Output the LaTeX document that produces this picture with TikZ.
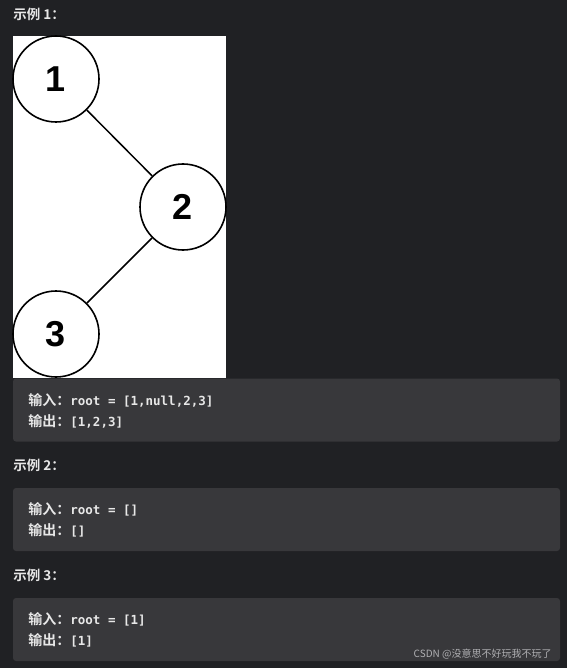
\documentclass[tikz,border=0pt]{standalone}
\usepackage{fontspec}
\usepackage{xcolor}
\setmainfont{Liberation Sans}
\setmonofont{DejaVu Sans Mono}
\newfontfamily\cjk{Noto Sans CJK SC}[BoldFont={Noto Sans CJK SC Bold}]
\usetikzlibrary{positioning, calc}

\definecolor{pagebg}{RGB}{32,33,36}
\definecolor{codebg}{RGB}{56,56,59}
\definecolor{codetext}{RGB}{232,232,232}
\definecolor{marktext}{RGB}{175,175,178}

\newcommand{\cjklabel}[1]{{\cjk\fontsize{14}{14}\selectfont\bfseries #1}}

\begin{document}
\begin{tikzpicture}[x=1pt, y=-1pt, thick,
					treenode/.style={circle, draw, line width=1.6pt, minimum size=86pt, inner sep=0pt, font=\fontsize{36}{36}\selectfont\bfseries},
					edge/.style={line width=1.5pt},
					title/.style={anchor=west, inner sep=0pt, text=codetext, font=\cjk\fontsize{13.5}{13.5}\selectfont\bfseries},
					codebox/.style={rectangle, rounded corners=3pt, fill=codebg, minimum width=547pt, minimum height=63pt, inner sep=0pt},
					codeline/.style={anchor=west, inner sep=0pt, text=codetext, font=\fontsize{12.5}{12.5}\selectfont\ttfamily\bfseries}
				]
					% Background
					\fill[pagebg] (0,0) rectangle (567,668);
					\useasboundingbox (0,0) rectangle (567,668);
					
					% Example 1
					\node[title] (t1) at (13,14) {示例 1：};
					\fill[white] (13,36) rectangle (226,378);
					\node[treenode] (n1) at (56,79) {1};
					\node[treenode] (n2) at (183,207) {2};
					\node[treenode] (n3) at (56,334) {3};
					\draw[edge] (n1) -- (n2);
					\draw[edge] (n2) -- (n3);
					\node[codebox] (b1) at (286.5,410) {};
					\node[codeline] (in1) at (28,400) {\cjklabel{输入：}root = [1,null,2,3]};
					\node[codeline] (out1) at (28,421) {\cjklabel{输出：}[1,2,3]};
					
					% Example 2
					\node[title] (t2) at (13,465) {示例 2：};
					\node[codebox] (b2) at (286.5,519.5) {};
					\node[codeline] (in2) at (28,509) {\cjklabel{输入：}root = []};
					\node[codeline] (out2) at (28,530) {\cjklabel{输出：}[]};
					
					% Example 3
					\node[title] (t3) at (13,575) {示例 3：};
					\node[codebox] (b3) at (286.5,629.5) {};
					\node[codeline] (in3) at (28,619) {\cjklabel{输入：}root = [1]};
					\node[codeline] (out3) at (28,640) {\cjklabel{输出：}[1]};
					\node[anchor=east, inner sep=0pt, text=marktext, font=\cjk\fontsize{10}{10}\selectfont] (mark) at (552,654) {CSDN @没意思不好玩我不玩了};
				\end{tikzpicture}
\end{document}
